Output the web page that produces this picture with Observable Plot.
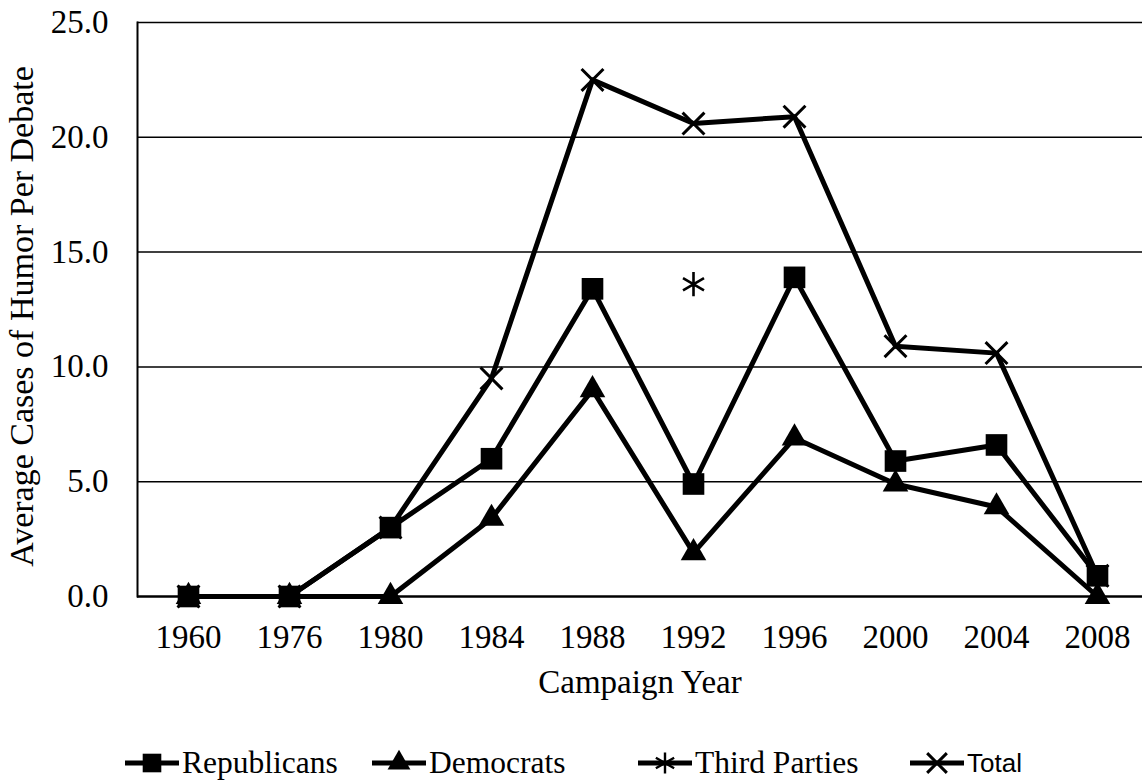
<!DOCTYPE html>
<html>
<head>
<meta charset="utf-8">
<script src="https://cdn.jsdelivr.net/npm/d3@7"></script>
<script src="https://cdn.jsdelivr.net/npm/@observablehq/plot@0.6"></script>
<style>
  html, body { margin: 0; padding: 0; background: #fff; }
  #chart { width: 1142px; }
  #legend { position: relative; width: 1142px; height: 62px; font-family: "Liberation Serif", "Times New Roman", serif; }
  .item { position: absolute; top: 12px; height: 62px; display: flex; align-items: center; }
  .item span { font-size: 31.5px; color: #000; line-height: 1; }
  .item span.sans { font-family: "Liberation Sans", Arial, sans-serif; font-size: 26px; }
</style>
</head>
<body>
<div id="chart"></div>
<div id="legend"></div>
<script>
const years = ["1960","1976","1980","1984","1988","1992","1996","2000","2004","2008"];
const republicans = [0, 0, 3.0, 6.0, 13.4, 4.9, 13.9, 5.9, 6.6, 0.9];
const democrats   = [0, 0, 0, 3.4, 9.0, 1.9, 6.9, 4.9, 3.9, 0];
const thirdParties = [null, null, null, null, null, 13.6, null, null, null, null];
const total       = [0, 0, 3.0, 9.5, 22.5, 20.6, 20.9, 10.9, 10.6, 0.9];
const yTicks = [0, 5, 10, 15, 20, 25];
const seriesNames = ["Republicans", "Democrats", "Third Parties", "Total"];
const yLabel = "Average Cases of Humor Per Debate";
const xLabel = "Campaign Year";

const rows = (name, vals) => years.map((year, i) => ({year, value: vals[i], series: name}));
const rep = rows("Republicans", republicans);
const dem = rows("Democrats", democrats);
const third = rows("Third Parties", thirdParties).filter(d => d.value != null);
const tot = rows("Total", total);

const serif = "Liberation Serif, Times New Roman, serif";

const chart = Plot.plot({
  width: 1142,
  height: 720,
  marginTop: 22,
  marginBottom: 124,
  marginLeft: 137,
  marginRight: 0,
  style: {fontFamily: serif, fontSize: "33px", color: "#000", background: "#fff"},
  x: {type: "point", domain: years, range: [188, 1097], padding: 0, label: null},
  y: {domain: [0, 25], label: null},
  marks: [
    Plot.ruleY(yTicks.filter(d => d > 0), {stroke: "#000", strokeWidth: 1.5}),
    Plot.ruleY([0], {stroke: "#000", strokeWidth: 2.5}),
    Plot.frame({anchor: "left", stroke: "#000", strokeWidth: 2}),
    Plot.axisY({ticks: yTicks, tickSize: 0, tickPadding: 29, tickFormat: d3.format(".1f"), label: null, fontSize: 33}),
    Plot.axisX({tickSize: 0, tickPadding: 28, label: null, fontSize: 33}),
    Plot.text([yLabel], {frameAnchor: "left", textAnchor: "middle", dx: -115, dy: 7, rotate: -90, fontSize: 34, fill: "#000"}),
    Plot.text([xLabel], {frameAnchor: "bottom", textAnchor: "middle", dy: 96, fontSize: 33, fill: "#000"}),
    Plot.line(dem, {x: "year", y: "value", stroke: "#000", strokeWidth: 5}),
    Plot.line(rep, {x: "year", y: "value", stroke: "#000", strokeWidth: 5}),
    Plot.line(tot, {x: "year", y: "value", stroke: "#000", strokeWidth: 5}),
    Plot.dot(dem, {x: "year", y: "value", symbol: "triangle", r: 9.5, fill: "#000", stroke: "none"}),
    Plot.dot(rep, {x: "year", y: "value", symbol: "square", r: 12.2, fill: "#000", stroke: "none"}),
    Plot.dot(third, {x: "year", y: "value", symbol: "asterisk", r: 11.5, stroke: "#000", strokeWidth: 2.6, fill: "none"}),
    Plot.dot(tot, {x: "year", y: "value", symbol: "times", r: 10, stroke: "#000", strokeWidth: 3, fill: "none"})
  ]
});
document.getElementById("chart").appendChild(chart);

// Legend
const legendSymbols = ["square", "triangle", "asterisk", "times"];
const legendLeft = [125, 372, 638, 910];
const legend = document.getElementById("legend");
seriesNames.forEach((name, i) => {
  const item = document.createElement("div");
  item.className = "item";
  item.style.left = legendLeft[i] + "px";
  const w = 54, h = 30;
  const svg = d3.create("svg").attr("width", w).attr("height", h).style("margin-right", "3px");
  svg.append("line").attr("x1", 0).attr("x2", w).attr("y1", h / 2).attr("y2", h / 2).attr("stroke", "#000").attr("stroke-width", 5);
  const sym = {square: d3.symbolSquare, triangle: d3.symbolTriangle, asterisk: d3.symbolAsterisk, times: d3.symbolTimes}[legendSymbols[i]];
  const size = {square: Math.PI * 10.5 * 10.5, triangle: Math.PI * 8.5 * 8.5, asterisk: Math.PI * 10 * 10, times: Math.PI * 9 * 9}[legendSymbols[i]];
  const filled = legendSymbols[i] === "square" || legendSymbols[i] === "triangle";
  svg.append("path").attr("transform", `translate(${w / 2},${h / 2})`)
    .attr("d", d3.symbol(sym, size)())
    .attr("fill", filled ? "#000" : "none")
    .attr("stroke", filled ? "none" : "#000")
    .attr("stroke-width", legendSymbols[i] === "asterisk" ? 2.4 : 3);
  item.appendChild(svg.node());
  const span = document.createElement("span");
  span.textContent = name;
  if (name === "Total") span.className = "sans";
  item.appendChild(span);
  legend.appendChild(item);
});
</script>
</body>
</html>
